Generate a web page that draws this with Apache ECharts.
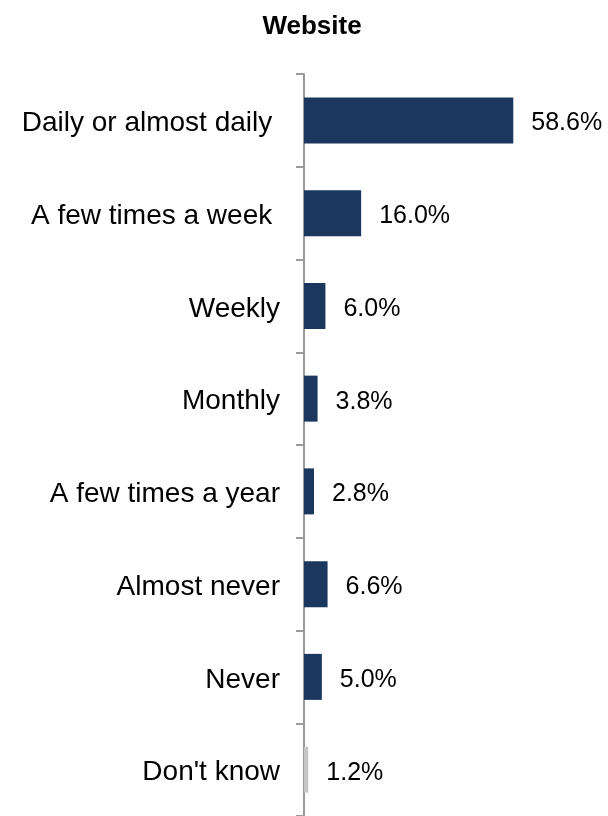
<!DOCTYPE html>
<html>
<head>
<meta charset="utf-8">
<script src="https://cdn.jsdelivr.net/npm/echarts@6/dist/echarts.min.js"></script>
<style>
html,body{margin:0;padding:0;background:#fff;}
#chart{width:608px;height:816px;}
</style>
</head>
<body>
<div id="chart"></div>
<script>
const titleText = "Website";
const categories = ["Daily or almost daily ", "A few times a week ", "Weekly", "Monthly", "A few times a year", "Almost never", "Never", "Don't know"];
const values = [58.6, 16.0, 6.0, 3.8, 2.8, 6.6, 5.0, 1.2];
const barColors = ["#1b375e", "#1b375e", "#1b375e", "#1b375e", "#1b375e", "#1b375e", "#1b375e", "#c6c6c6"];

const chart = echarts.init(document.getElementById('chart'), null, {renderer: 'canvas'});
const FONT = '"Liberation Sans", Arial, sans-serif';
chart.setOption({
  backgroundColor: '#ffffff',
  animation: false,
  title: {
    text: titleText,
    left: 307,
    textAlign: 'center',
    top: 9,
    textStyle: {fontFamily: FONT, fontWeight: 'bold', fontSize: 26, color: '#000'}
  },
  grid: {left: 304, top: 74, width: 300, height: 746, containLabel: false},
  xAxis: {
    type: 'value', min: 0, max: 84, show: false,
    splitLine: {show: false}
  },
  yAxis: {
    type: 'category',
    data: categories,
    inverse: true,
    axisLine: {show: true, lineStyle: {color: '#9a9a9a', width: 2}},
    axisTick: {show: true, length: 8, lineStyle: {color: '#9a9a9a', width: 2}},
    axisLabel: {
      margin: 24, fontFamily: FONT, fontSize: 28, color: '#000',
      formatter: v => '{c|' + v + '}',
      rich: {c: {fontFamily: FONT, fontSize: 28, color: '#000', padding: [6, 0, 0, 0]}}
    }
  },
  series: [{
    type: 'bar',
    data: values.map((v, i) => ({value: v, itemStyle: {color: barColors[i]}})),
    barWidth: 46,
    label: {
      show: true, position: 'right', distance: 18,
      fontFamily: FONT, fontSize: 25, color: '#000', offset: [0, 3],
      formatter: p => p.value.toFixed(1) + '%'
    }
  }]
});
</script>
</body>
</html>
